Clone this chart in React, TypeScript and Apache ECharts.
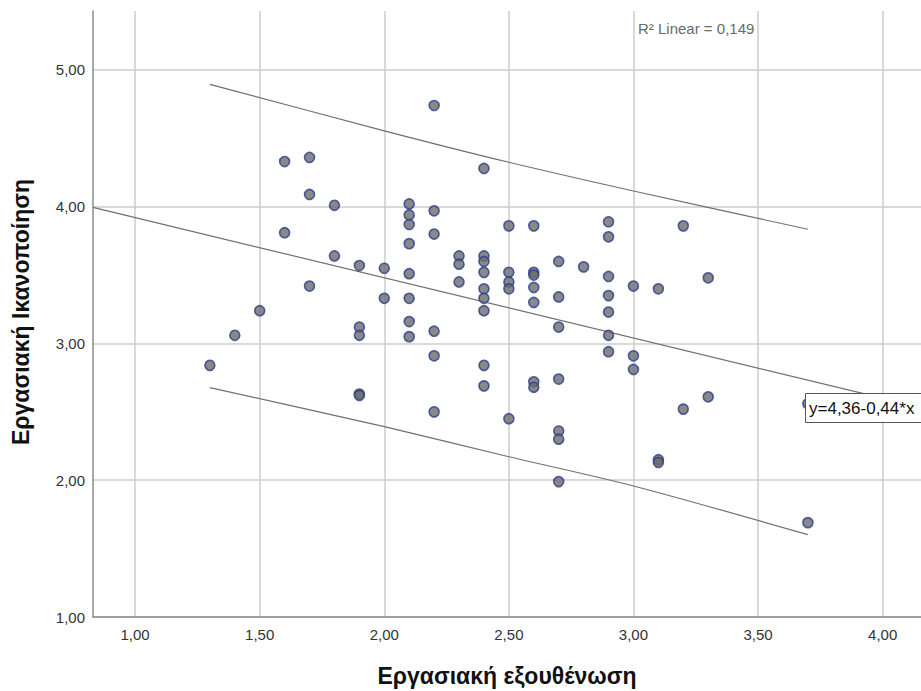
import React, { useEffect, useRef } from "react";
import * as echarts from "echarts";

// Εργασιακή εξουθένωση (x) and Εργασιακή Ικανοποίηση (y), one entry per respondent
const burnout = [
  1.3, 1.4, 1.5, 1.6, 1.6, 1.7, 1.7, 1.7, 1.8, 1.8,
  1.9, 1.9, 1.9, 1.9, 1.9, 2.0, 2.0,
  2.1, 2.1, 2.1, 2.1, 2.1, 2.1, 2.1, 2.1,
  2.2, 2.2, 2.2, 2.2, 2.2, 2.2,
  2.3, 2.3, 2.3,
  2.4, 2.4, 2.4, 2.4, 2.4, 2.4, 2.4, 2.4, 2.4,
  2.5, 2.5, 2.5, 2.5, 2.5,
  2.6, 2.6, 2.6, 2.6, 2.6, 2.6, 2.6,
  2.7, 2.7, 2.7, 2.7, 2.7, 2.7, 2.7,
  2.8,
  2.9, 2.9, 2.9, 2.9, 2.9, 2.9, 2.9,
  3.0, 3.0, 3.0,
  3.1, 3.1, 3.1,
  3.2, 3.2,
  3.3, 3.3,
  3.7, 3.7,
];
const satisfaction = [
  2.84, 3.06, 3.24, 4.33, 3.81, 4.36, 4.09, 3.42, 4.01, 3.64,
  3.57, 3.12, 3.06, 2.63, 2.62, 3.55, 3.33,
  4.02, 3.94, 3.87, 3.73, 3.51, 3.33, 3.16, 3.05,
  4.74, 3.97, 3.8, 3.09, 2.91, 2.5,
  3.64, 3.58, 3.45,
  4.28, 3.64, 3.6, 3.52, 3.4, 3.33, 3.24, 2.84, 2.69,
  3.86, 3.52, 3.45, 3.4, 2.45,
  3.86, 3.52, 3.5, 3.41, 3.3, 2.72, 2.68,
  3.6, 3.34, 3.12, 2.74, 2.36, 2.3, 1.99,
  3.56,
  3.89, 3.78, 3.49, 3.35, 3.23, 3.06, 2.94,
  3.42, 2.91, 2.81,
  3.4, 2.15, 2.13,
  3.86, 2.52,
  3.48, 2.61,
  2.56, 1.69,
];

const xTicks = [1, 1.5, 2, 2.5, 3, 3.5, 4];
const yTicks = [1, 2, 3, 4, 5];

// fitted line and its prediction-interval bounds
const fitX = [0.831, 4.154];
const fitY = [3.995, 2.532];
const bandX = [1.3, 2.0, 2.5, 3.0, 3.7];
const upperY = [4.895, 4.555, 4.325, 4.115, 3.835];
const lowerY = [2.677, 2.392, 2.172, 1.958, 1.602];

const xTitle = "Εργασιακή εξουθένωση";
const yTitle = "Εργασιακή Ικανοποίηση";
const r2Label = "R² Linear = 0,149";
const equationLabel = "y=4,36-0,44*x";

const FONT = "Liberation Sans, Arial, sans-serif";
const fmt = (v: number) => v.toFixed(2).replace(".", ",");

export default function App() {
  const ref = useRef<HTMLDivElement>(null);

  useEffect(() => {
    if (!ref.current) return;
    const chart = echarts.init(ref.current, null, { renderer: "svg" });

    const points = burnout.map((x, i) => [x, satisfaction[i]]);
    const fitLine = fitX.map((x, i) => [x, fitY[i]]);
    const upper = bandX.map((x, i) => [x, upperY[i]]);
    const lower = bandX.map((x, i) => [x, lowerY[i]]);

    const lineStyle = { color: "#707070", width: 1.2 };

    chart.setOption({
      animation: false,
      backgroundColor: "#ffffff",
      textStyle: { fontFamily: FONT },
      grid: { left: 93, top: 11, right: 0, bottom: 74, containLabel: false },
      xAxis: {
        type: "value",
        min: 0.831,
        max: 4.154,
        axisLine: { show: true, onZero: false, lineStyle: { color: "#8c8c8c", width: 1.5 } },
        axisTick: { show: false, customValues: xTicks },
        axisLabel: {
          customValues: xTicks,
          formatter: (v: number) => fmt(v),
          fontSize: 15,
          color: "#333333",
          margin: 10,
          fontFamily: FONT,
        },
        splitLine: { show: true, lineStyle: { color: "#cdcdcd", width: 1.5 } },
      },
      yAxis: {
        type: "value",
        min: 1,
        max: 5.431,
        axisLine: { show: true, onZero: false, lineStyle: { color: "#8c8c8c", width: 1.5 } },
        axisTick: { show: false, customValues: yTicks },
        axisLabel: {
          customValues: yTicks,
          formatter: (v: number) => fmt(v),
          fontSize: 15,
          color: "#333333",
          margin: 8,
          fontFamily: FONT,
        },
        splitLine: { show: true, lineStyle: { color: "#cdcdcd", width: 1.5 } },
      },
      series: [
        {
          type: "line",
          data: fitLine,
          symbol: "none",
          lineStyle,
          z: 2,
          silent: true,
        },
        {
          type: "line",
          data: upper,
          symbol: "none",
          smooth: 0.3,
          lineStyle,
          z: 2,
          silent: true,
        },
        {
          type: "line",
          data: lower,
          symbol: "none",
          smooth: 0.3,
          lineStyle,
          z: 2,
          silent: true,
        },
        {
          type: "scatter",
          data: points,
          symbol: "circle",
          symbolSize: 10,
          itemStyle: { color: "#6b6b6b", borderColor: "#2b3f8c", borderWidth: 1.6 },
          z: 3,
          silent: true,
        },
      ],
      graphic: [
        {
          type: "text",
          x: 638,
          y: 28,
          z: 10,
          style: {
            text: r2Label,
            fill: "#6a6a6a",
            fontSize: 15,
            fontFamily: FONT,
            verticalAlign: "middle",
            align: "left",
          },
        },
        {
          type: "rect",
          z: 10,
          shape: { x: 805.5, y: 393.5, width: 130, height: 29 },
          style: { fill: "#ffffff", stroke: "#555555", lineWidth: 1 },
        },
        {
          type: "text",
          x: 809,
          y: 408,
          z: 11,
          style: {
            text: equationLabel,
            fill: "#111111",
            fontSize: 17,
            fontFamily: FONT,
            verticalAlign: "middle",
            align: "left",
          },
        },
        {
          type: "text",
          x: 507,
          y: 676,
          z: 10,
          style: {
            text: xTitle,
            fill: "#111111",
            fontSize: 23,
            fontWeight: "bold",
            fontFamily: FONT,
            verticalAlign: "middle",
            align: "center",
          },
        },
        {
          type: "text",
          x: 21,
          y: 312,
          rotation: Math.PI / 2,
          z: 10,
          style: {
            text: yTitle,
            fill: "#111111",
            fontSize: 23,
            fontWeight: "bold",
            fontFamily: FONT,
            verticalAlign: "middle",
            align: "center",
          },
        },
      ],
    });

    return () => chart.dispose();
  }, []);

  return (
    <div
      ref={ref}
      style={{ position: "fixed", left: 0, top: 0, width: 921, height: 691, background: "#fff" }}
    />
  );
}
